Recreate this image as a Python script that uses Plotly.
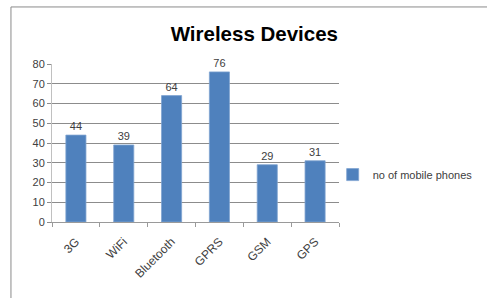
import plotly.graph_objects as go

categories = ["3G", "WiFi", "Bluetooth", "GPRS", "GSM", "GPS"]
values = [44, 39, 64, 76, 29, 31]
series_name = "no of mobile phones"
y_ticks = [0, 10, 20, 30, 40, 50, 60, 70, 80]

FONT = "Liberation Sans"

fig = go.Figure()
fig.add_trace(go.Bar(
    x=categories, y=values, name=series_name,
    marker=dict(color="#4F81BD", line=dict(color="#7FA3D0", width=0.8)),
    width=0.42,
    text=[str(v) for v in values], textposition="outside",
    textfont=dict(family=FONT, size=11, color="#404040"),
    cliponaxis=False,
))

fig.update_layout(
    width=487, height=298,
    margin=dict(l=52, r=148, t=64, b=76, autoexpand=False),
    paper_bgcolor="white", plot_bgcolor="white",
    showlegend=True,
    title=dict(text="<b>Wireless Devices</b>", font=dict(family=FONT, size=20.5, color="black"),
               xref="paper", x=0.705, xanchor="center", yref="container", y=0.886, yanchor="middle"),
    legend=dict(x=0.978, y=0.30, xanchor="left", yanchor="middle",
                font=dict(family=FONT, size=11, color="#404040"),
                bgcolor="rgba(0,0,0,0)"),
    xaxis=dict(type="category", showline=True, linecolor="#9a9a9a", linewidth=1,
               ticks="outside", tickson="boundaries", ticklen=4, tickcolor="#9a9a9a",
               tickangle=-45, tickfont=dict(family=FONT, size=12, color="#404040"),
               ticklabelstandoff=7, showgrid=False, automargin=False),
    yaxis=dict(range=[0, 80], tickvals=y_ticks, showline=True, linecolor="#c0c0c0",
               gridcolor="#8c8c8c", gridwidth=1, ticks="outside", ticklen=4,
               tickcolor="#8c8c8c", tickfont=dict(family=FONT, size=11, color="#404040"),
               zeroline=False, automargin=False),
    bargap=0.58,
)

# chart frame border
fig.add_shape(type="rect", xref="paper", yref="paper",
              x0=-0.143, x1=1.52, y0=-0.6, y1=1.361,
              line=dict(color="#8a8a8a", width=1), layer="below")

fig.write_html("out.html", config={"displayModeBar": False},
               post_script="document.body.style.margin='0';")
